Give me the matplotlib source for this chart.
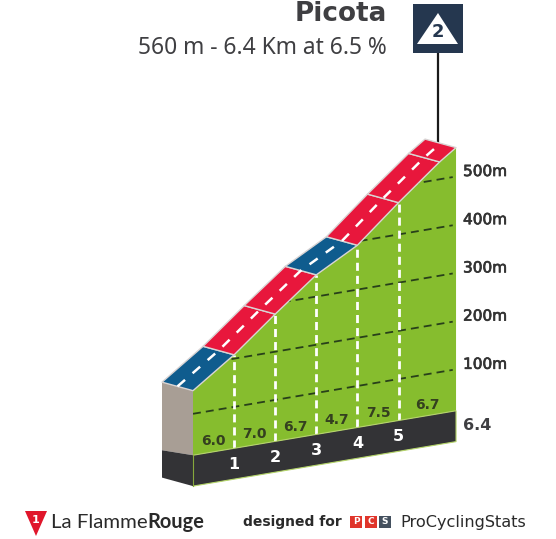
import matplotlib
matplotlib.use("Agg")
import matplotlib.pyplot as plt
import matplotlib.patheffects as pe
from matplotlib.patches import Polygon, Rectangle
from matplotlib.transforms import Affine2D

# profile
km = [0, 1, 2, 3, 4, 5, 6, 6.4]
elev = [148, 208, 278, 345, 392, 466, 536, 560]
grades = [6.0, 7.0, 6.7, 4.7, 7.5, 6.7]
grade_km = [0.5, 1.5, 2.5, 3.5, 4.5, 5.7]
road_colors = ["#0f5c8e", "#e8173c", "#e8173c", "#0f5c8e", "#e8173c", "#e8173c", "#e8173c"]
km_marks = [1, 2, 3, 4, 5]
elev_ticks = [100, 200, 300, 400, 500]
base_top = 14
base_bottom = -50

GREEN = "#86bd2e"
DARK = "#333336"
TEXT = "#3f3f42"
DEPTH = (-31, -8.5)

fig = plt.figure(figsize=(5.56, 5.39), dpi=100)
ax = fig.add_axes([0, 0, 1, 1])
ax.set_xlim(0, 556)
ax.set_ylim(539, 0)
ax.axis("off")

# km / metres -> picture, the profile is drawn skewed
profile = Affine2D.from_values(41.1, -6.95, 0, -0.482, 193, 462)


def pt(k, e):
    return tuple(profile.transform((k, e)))


def back(p):
    return (p[0] + DEPTH[0], p[1] + DEPTH[1])


to_ax = profile + ax.transData

# green face
face = [pt(k, e) for k, e in zip(km, elev)] + [pt(km[-1], base_top), pt(0, base_top)]
green = Polygon(face, closed=True, fc=GREEN, ec="none", zorder=1)
ax.add_patch(green)

# elevation grid
for e in elev_ticks:
    line, = ax.plot([0, km[-1] - 0.08], [e, e], transform=to_ax, color="#28401a", lw=1.3,
                    dashes=(4.4, 2.8), zorder=2)
    line.set_clip_path(green)

# km lines
for m in km_marks:
    ax.plot([m, m], [base_top, elev[km.index(m)]], transform=to_ax, color="white", lw=2.0,
            dashes=(2.9, 1.8), zorder=3)

# band and the left side
band = [pt(0, base_top), pt(km[-1], base_top), pt(km[-1], base_bottom), pt(0, base_bottom)]
ax.add_patch(Polygon(band, closed=True, fc=DARK, ec="#b5d56a", lw=0.8, zorder=4))
a = pt(0, elev[0])
b = pt(0, base_top)
c = pt(0, base_bottom)
ax.add_patch(Polygon([back(a), a, b, (back(a)[0], b[1] - 5)], closed=True, fc="#a89e95", ec="none", zorder=4))
ax.add_patch(Polygon([(back(a)[0], b[1] - 5), b, c, back(c)], closed=True, fc=DARK, ec="none", zorder=4))
ax.plot([b[0], c[0]], [b[1], c[1]], color="#86a83c", lw=0.8, zorder=5)

# road
for i in range(len(km) - 1):
    p0 = pt(km[i], elev[i])
    p1 = pt(km[i + 1], elev[i + 1])
    ax.add_patch(Polygon([p0, p1, back(p1), back(p0)], closed=True, fc=road_colors[i],
                         ec="#d9d4d4", lw=1.0, joinstyle="round", zorder=6))
mid = [(pt(k, e)[0] + DEPTH[0] / 2, pt(k, e)[1] + DEPTH[1] / 2) for k, e in zip(km, elev)]
ax.plot([p[0] for p in mid], [p[1] for p in mid], color="white", lw=1.8, dashes=(4.0, 4.0), zorder=7)

# labels
for g, k in zip(grades, grade_km):
    x, y = pt(k, base_top)
    ax.text(x, y - 10.5, "%.1f" % g, ha="center", va="center", fontsize=10, fontweight="bold",
            color="#34401f", zorder=8)
for m in km_marks:
    x, y = pt(m, base_top)
    ax.text(x, y + 16, str(m), ha="center", va="center", fontsize=11.5, fontweight="bold", color="white", zorder=8)
for e in elev_ticks:
    x, y = pt(km[-1], e)
    ax.text(x + 7, y - 5, "%dm" % e, ha="left", va="center", fontsize=11, color="#333333", zorder=8,
            path_effects=[pe.withStroke(linewidth=0.5, foreground="#333333")])
ax.text(463, 426, "%.1f" % km[-1], ha="left", va="center", fontsize=11.5, fontweight="bold", color=TEXT)

# head
ax.text(387, 14, "Picota", ha="right", va="center", fontsize=18.9, fontweight="bold", color=TEXT)
ax.text(387, 48, "560 m - 6.4 Km at 6.5 %", ha="right", va="center", fontsize=16.4, family="Noto Sans", color=TEXT)
ax.plot([438, 438], [53, 143], color="#1a1a1a", lw=1.6, zorder=5)
ax.add_patch(Rectangle((413, 4), 50, 49, fc="#25374f", ec="none", zorder=6))
ax.add_patch(Polygon([(438, 13), (417, 44), (458, 44)], closed=True, fc="white", ec="none", zorder=7))
ax.text(438, 32, "2", ha="center", va="center", fontsize=13, fontweight="bold", color="#25374f", zorder=8)

# footer
ax.add_patch(Polygon([(25, 511), (47, 511), (36, 536)], closed=True, fc="#e0162b", ec="none"))
ax.text(35.5, 520, "1", ha="center", va="center", fontsize=8, fontweight="bold", color="white")
ax.text(51, 522, "La Flamme", ha="left", va="center", fontsize=14.7, family="Lato", color="#2a2a2a")
ax.text(147, 522, "Rouge", ha="left", va="center", fontsize=14.4, family="Lato", fontweight="bold", color="#2a2a2a")
ax.text(243, 522, "designed for", ha="left", va="center", fontsize=10, fontweight="bold", color="#2a2a2a")
for x0, s, col in zip([350, 365, 379], ["P", "C", "S"], ["#e0352b", "#e0352b", "#44505e"]):
    ax.add_patch(Rectangle((x0, 516), 12, 12, fc=col, ec="none"))
    ax.text(x0 + 6, 522, s, ha="center", va="center", fontsize=6.5, fontweight="bold", color="white")
ax.text(400, 522, "ProCyclingStats", ha="left", va="center", fontsize=11.6, color="#2a2a2a")

fig.savefig("out.png", dpi=100)
